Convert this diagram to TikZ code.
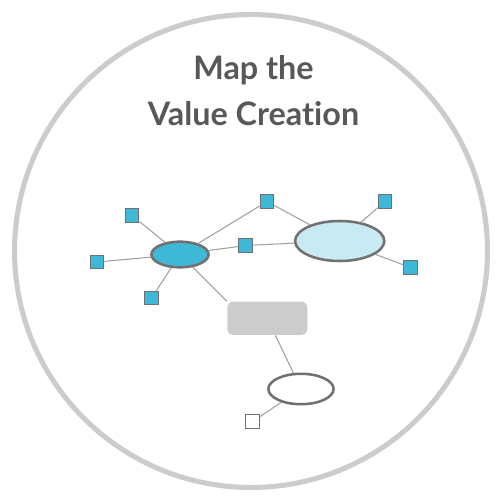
\documentclass[tikz,border=0pt]{standalone}
\usepackage{fontspec}
\setmainfont{Lato}[Ligatures=NoCommon]
\usepackage{tikz}
\usetikzlibrary{shapes.geometric}
\definecolor{ringgray}{RGB}{204,204,204}
\definecolor{titlegray}{RGB}{88,88,88}
\definecolor{linegray}{RGB}{160,160,160}
\definecolor{edgegray}{RGB}{112,112,112}
\definecolor{valueblue}{RGB}{63,184,216}
\definecolor{paleblue}{RGB}{200,234,242}
\begin{document}
\begin{tikzpicture}[x=0.025cm,y=-0.025cm,semithick]
  \tikzstyle{hub}=[ellipse,draw=edgegray,line width=1.8pt,inner sep=0pt]
  \tikzstyle{leaf}=[rectangle,draw=edgegray,line width=0.8pt,fill=valueblue,
                    minimum size=0.34cm,inner sep=0pt]
  \tikzstyle{link}=[draw=linegray,line width=0.75pt]
  \tikzstyle{heading}=[text=titlegray,font=\bfseries\fontsize{23}{27}\selectfont,anchor=base]

  \useasboundingbox (0,0) rectangle (500,500);
  \draw[ringgray,line width=3.6pt] (251,251) circle (5.91cm);

  \node[heading] (T1) at (253.5,79.3)  {Map the};
  \node[heading] (T2) at (253.5,125)   {Value Creation};

  \node[hub,fill=valueblue,minimum width=1.43cm,minimum height=0.64cm] (small) at (180,254.5) {};
  \node[hub,fill=paleblue,minimum width=2.23cm,minimum height=1.0cm]   (large) at (339.7,241) {};
  \node[rectangle,rounded corners=0.15cm,fill=ringgray,minimum width=2.0cm,
        minimum height=0.83cm,inner sep=0pt] (box) at (267.3,318.3) {};
  \node[hub,fill=white,minimum width=1.63cm,minimum height=0.76cm]     (open) at (301,389) {};

  \node[leaf] (a) at (132,215.5) {};
  \node[leaf] (b) at (97,262)    {};
  \node[leaf] (c) at (151.5,298) {};
  \node[leaf] (d) at (267,201.5) {};
  \node[leaf] (e) at (245.5,245.5) {};
  \node[leaf] (f) at (385,201.3) {};
  \node[leaf] (g) at (410.5,267.5) {};
  \node[leaf,fill=white] (h) at (252.5,421.7) {};

  \path[link] (small) edge (a)
              (small) edge (b)
              (small) edge (c)
              (small) edge (d)
              (small) edge (e)
              (e) edge (large)
              (d) edge (large)
              (large) edge (f)
              (large) edge (g)
              (small) edge (box.north west)
              (box) edge (open)
              (open) edge (h);
\end{tikzpicture}
\end{document}
